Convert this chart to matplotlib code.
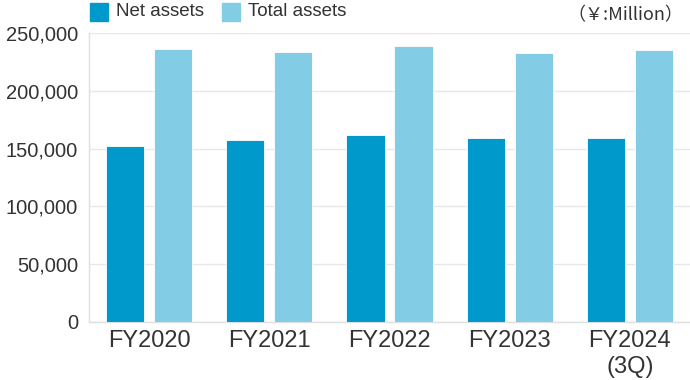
import numpy as np
import matplotlib.pyplot as plt
from matplotlib.patches import Rectangle

categories = ['FY2020', 'FY2021', 'FY2022', 'FY2023', 'FY2024\n(3Q)']
net_assets = [152100, 157300, 161600, 159300, 158750]
total_assets = [236100, 233500, 238700, 232400, 235300]

c_net = '#0099cc'
c_total = '#82cce6'
txt = '#333333'

plt.rcParams['font.family'] = ['Liberation Sans', 'DejaVu Sans']

fig = plt.figure(figsize=(6.9, 3.8), dpi=100)
ax = fig.add_axes([0.129, 0.153, 0.871, 0.760])

x = np.arange(len(categories))
w = 0.317
ax.bar(x - 0.2, net_assets, w, color=c_net, edgecolor='white', linewidth=0.6, zorder=3)
ax.bar(x + 0.2, total_assets, w, color=c_total, edgecolor='white', linewidth=0.6, zorder=3)

ax.set_xlim(-0.5, len(categories) - 0.5)
ax.set_ylim(0, 250000)
ax.set_yticks(np.arange(0, 250001, 50000))
ax.set_yticklabels([f'{v:,}' for v in range(0, 250001, 50000)])
ax.set_xticks(x)
ax.set_xticklabels(categories, linespacing=1.2)
ax.grid(axis='y', color='#e8e8e8', linewidth=1, zorder=0)
ax.tick_params(axis='both', length=0, labelsize=14.5, colors=txt)
ax.tick_params(axis='x', pad=6, labelsize=17)
ax.tick_params(axis='y', pad=8)
for s in ['top', 'right']:
    ax.spines[s].set_visible(False)
for s in ['left', 'bottom']:
    ax.spines[s].set_color('#e0e0e0')
    ax.spines[s].set_linewidth(1)

# legend
fig.patches.append(Rectangle((90 / 690, 1 - 21 / 380), 18 / 690, 18 / 380,
                             transform=fig.transFigure, color=c_net))
fig.text(116 / 690, 1 - 12 / 380, 'Net assets', fontsize=13.5, color=txt, va='center')
fig.patches.append(Rectangle((222 / 690, 1 - 21 / 380), 18 / 690, 18 / 380,
                             transform=fig.transFigure, color=c_total))
fig.text(248 / 690, 1 - 12 / 380, 'Total assets', fontsize=13.5, color=txt, va='center')

fig.text(0.99, 1 - 15 / 380, '（￥:Million）', fontsize=13, color=txt, ha='right', va='center',
         family=['Noto Sans CJK JP', 'DejaVu Sans'])

fig.savefig('out.png', dpi=100)
